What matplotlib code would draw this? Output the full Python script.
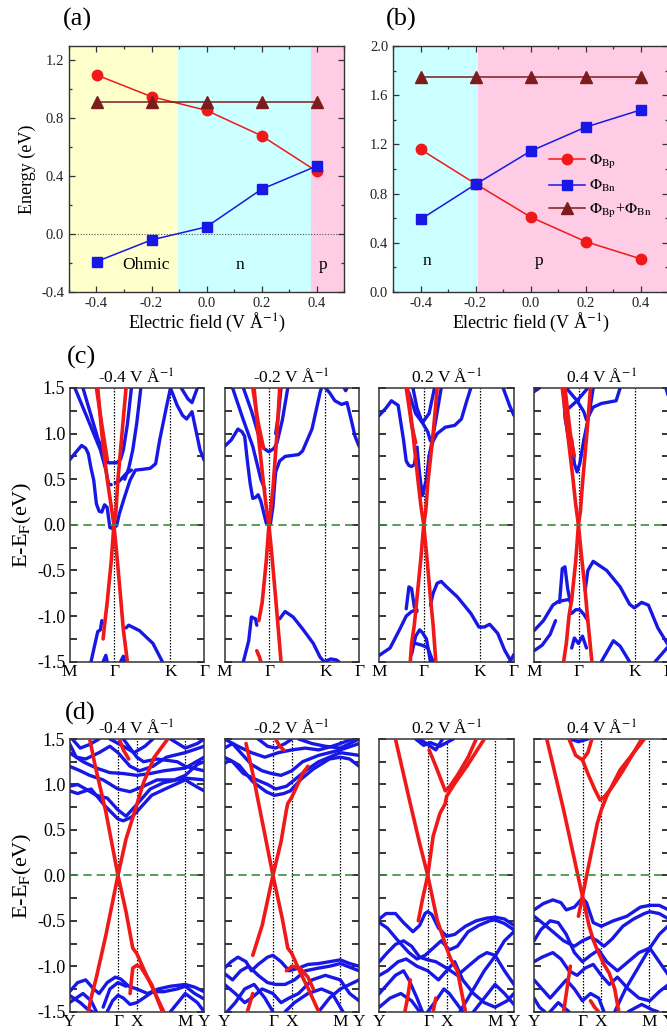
import matplotlib
matplotlib.use('Agg')
import matplotlib.pyplot as plt
from matplotlib.ticker import MultipleLocator, FormatStrFormatter
from matplotlib.lines import Line2D

plt.rcParams['font.family'] = ['Liberation Serif', 'DejaVu Serif']
plt.rcParams['mathtext.fontset'] = 'stix'
plt.rcParams['axes.unicode_minus'] = False

# ---------------- data: panels (a) and (b) ----------------
FIELD = [-0.4, -0.2, 0.0, 0.2, 0.4]
A_PHI_BP = [1.10, 0.95, 0.855, 0.68, 0.435]
A_PHI_BN = [-0.19, -0.04, 0.05, 0.31, 0.47]
A_SUM = [0.915, 0.915, 0.915, 0.915, 0.915]
A_BOUNDS = [-0.5, -0.105, 0.38, 0.5]
A_REGION_LABELS = ['Ohmic', 'n', 'p']
A_REGION_POS = [(-0.22, -0.215), (0.12, -0.215), (0.423, -0.215)]

B_PHI_BP = [1.16, 0.88, 0.61, 0.41, 0.27]
B_PHI_BN = [0.59, 0.875, 1.145, 1.34, 1.48]
B_SUM = [1.75, 1.75, 1.75, 1.75, 1.75]
B_BOUNDS = [-0.5, -0.19, 0.5]
B_REGION_LABELS = ['n', 'p']
B_REGION_POS = [(-0.378, 0.25), (0.03, 0.25)]

# ---------------- data: band structures ----------------
FIELD_TITLES = ['-0.4', '-0.2', '0.2', '0.4']
C_KPOINTS = [0.0, 0.332, 0.75, 1.0]
C_KLABELS = ['M', 'Γ', 'K', 'Γ']
D_KPOINTS = [0.0, 0.362, 0.50, 0.858, 1.0]
D_KLABELS = ['Y', 'Γ', 'X', 'M', 'Y']

C1_BLUE = [
    [(0.0, 0.71), (0.05, 0.80), (0.09, 0.87), (0.12, 0.84), (0.14, 0.78), (0.16, 0.62), (0.18, 0.49), (0.20, 0.23), (0.22, 0.15), (0.24, 0.14), (0.26, 0.22), (0.28, 0.19), (0.30, -0.03), (0.32, -0.04), (0.33, 0.0)],
    [(0.34, -0.02), (0.35, -0.01), (0.37, 0.12), (0.41, 0.31), (0.45, 0.49), (0.49, 0.60), (0.55, 0.61), (0.60, 0.62), (0.64, 0.67), (0.67, 0.93), (0.72, 1.29), (0.75, 1.5)],
    [(0.04, 1.5), (0.13, 1.18), (0.23, 0.82), (0.27, 0.60), (0.29, 0.45), (0.31, 0.44)],
    [(0.34, 0.46), (0.37, 0.48), (0.42, 0.56), (0.46, 0.60)],
    [(0.10, 1.5), (0.15, 1.25), (0.21, 0.95), (0.26, 0.75), (0.29, 0.68), (0.35, 0.68), (0.38, 0.72), (0.40, 0.82), (0.43, 1.1), (0.46, 1.5)],
    [(0.53, 1.5), (0.50, 1.12), (0.47, 0.82), (0.44, 0.62), (0.41, 0.50)],
    [(0.75, 1.5), (0.80, 1.31), (0.84, 1.20), (0.87, 1.16), (0.91, 1.24), (0.94, 1.03), (0.97, 0.82), (1.0, 0.71)],
    [(0.83, 1.5), (0.88, 1.38), (0.91, 1.34), (0.93, 1.42), (0.95, 1.5)],
    [(0.42, -1.13), (0.44, -1.10), (0.52, -1.16), (0.62, -1.30), (0.69, -1.5)],
    [(0.16, -1.5), (0.19, -1.3), (0.21, -1.17), (0.23, -1.15), (0.24, -1.05)],
    [(0.25, -1.5), (0.27, -1.43), (0.28, -1.5)],
    [(0.38, -1.5), (0.40, -1.44), (0.41, -1.5)],
]
C1_RED = [
    [(0.21, 1.5), (0.24, 1.0), (0.28, 0.5), (0.31, 0.2), (0.33, 0.0), (0.35, -0.3), (0.38, -0.8), (0.40, -1.15), (0.43, -1.5)],
    [(0.42, 1.5), (0.39, 1.0), (0.36, 0.5), (0.345, 0.15), (0.33, 0.0), (0.31, -0.4), (0.28, -0.85), (0.26, -1.1), (0.25, -1.25)],
    [(0.20, 1.5), (0.245, 1.05), (0.28, 0.72)],
]

C2_BLUE = [
    [(0.0, 0.86), (0.05, 0.93), (0.10, 1.05), (0.13, 1.02), (0.15, 0.97), (0.17, 0.70), (0.19, 0.46), (0.21, 0.29), (0.23, 0.30), (0.25, 0.33), (0.27, 0.26), (0.31, 0.02), (0.33, 0.0)],
    [(0.34, 0.0), (0.36, 0.2), (0.37, 0.40), (0.38, 0.58), (0.41, 0.70), (0.45, 0.75), (0.55, 0.77), (0.58, 0.81), (0.65, 1.05), (0.71, 1.45), (0.72, 1.5)],
    [(0.06, 1.5), (0.14, 1.15), (0.21, 0.86), (0.27, 0.50), (0.30, 0.39)],
    [(0.14, 1.5), (0.20, 1.25), (0.25, 1.0), (0.29, 0.84), (0.33, 0.80), (0.37, 0.84)],
    [(0.47, 1.5), (0.43, 1.15), (0.39, 0.90), (0.37, 0.84)],
    [(0.42, 1.5), (0.40, 1.2), (0.38, 1.0)],
    [(0.75, 1.5), (0.78, 1.45), (0.82, 1.36), (0.87, 1.32), (0.91, 1.34), (0.94, 1.16), (0.97, 0.97), (1.0, 0.86)],
    [(0.89, 1.5), (0.90, 1.47), (0.91, 1.5)],
    [(0.41, -1.03), (0.45, -0.95), (0.51, -1.01), (0.58, -1.14), (0.66, -1.30), (0.71, -1.45), (0.74, -1.5), (0.79, -1.47), (0.83, -1.48), (0.85, -1.5)],
    [(0.14, -1.5), (0.18, -1.27), (0.20, -1.01), (0.23, -1.03), (0.24, -1.1)],
]
C2_RED = [
    [(0.22, 1.5), (0.25, 1.0), (0.29, 0.45), (0.31, 0.2), (0.33, 0.0), (0.35, -0.3), (0.38, -0.8), (0.40, -1.15), (0.42, -1.5)],
    [(0.41, 1.5), (0.39, 1.0), (0.36, 0.4), (0.34, 0.12), (0.33, 0.0), (0.31, -0.4), (0.28, -0.85), (0.255, -1.05)],
    [(0.21, 1.5), (0.25, 1.12), (0.29, 0.84)],
    [(0.24, -1.38), (0.26, -1.45), (0.27, -1.5)],
]

C3_BLUE = [
    [(0.0, 1.20), (0.05, 1.28), (0.09, 1.36), (0.14, 1.31), (0.18, 0.93), (0.20, 0.70), (0.22, 0.65), (0.24, 0.64), (0.26, 0.66), (0.28, 0.85)],
    [(0.28, 0.85), (0.30, 0.55), (0.32, 0.32), (0.35, 0.50), (0.37, 0.75)],
    [(0.22, 1.45), (0.27, 1.22), (0.32, 1.12), (0.37, 1.22), (0.41, 1.5)],
    [(0.25, 1.5), (0.28, 1.28), (0.32, 1.12), (0.36, 1.02), (0.38, 0.92)],
    [(0.37, 0.75), (0.40, 0.92), (0.43, 1.0), (0.49, 1.07), (0.56, 1.09), (0.61, 1.16), (0.65, 1.36), (0.68, 1.5)],
    [(0.46, 1.5), (0.42, 1.15), (0.39, 0.9), (0.37, 0.75)],
    [(0.92, 1.5), (0.97, 1.30), (1.0, 1.20)],
    [(0.38, -0.88), (0.40, -0.75), (0.43, -0.64), (0.46, -0.62), (0.50, -0.68), (0.58, -0.79), (0.68, -0.97), (0.74, -1.12), (0.78, -1.12), (0.82, -1.09), (0.88, -1.19), (0.93, -1.37), (0.98, -1.5)],
    [(0.97, -1.5), (1.0, -1.42)],
    [(0.20, -0.92), (0.22, -0.68), (0.24, -0.70), (0.26, -0.90), (0.28, -0.95)],
    [(0.0, -1.43), (0.08, -1.35), (0.15, -1.15), (0.20, -1.0), (0.24, -0.95), (0.28, -0.93)],
    [(0.24, -1.42), (0.27, -1.22), (0.30, -1.15), (0.32, -1.18), (0.35, -1.25), (0.38, -1.5)],
    [(0.27, -1.30), (0.32, -1.32), (0.36, -1.35), (0.40, -1.5)],
]
C3_RED = [
    [(0.21, 1.5), (0.25, 1.0), (0.29, 0.45), (0.31, 0.2), (0.33, 0.0), (0.35, -0.3), (0.38, -0.8), (0.40, -1.1), (0.42, -1.5)],
    [(0.43, 1.5), (0.40, 1.0), (0.36, 0.45), (0.345, 0.15), (0.33, 0.0), (0.31, -0.35), (0.28, -0.8), (0.26, -1.1), (0.24, -1.3), (0.23, -1.5)],
    [(0.20, 1.5), (0.24, 1.1), (0.27, 0.9)],
]

C4_BLUE = [
    [(0.0, 1.46), (0.04, 1.5)],
    [(0.22, 1.5), (0.23, 1.18), (0.255, 0.96), (0.28, 0.93), (0.30, 0.67), (0.32, 0.58), (0.34, 0.67), (0.37, 0.93)],
    [(0.24, 1.5), (0.32, 1.36), (0.37, 1.24), (0.39, 1.15), (0.44, 1.29), (0.50, 1.33), (0.61, 1.36), (0.64, 1.5)],
    [(0.26, 1.28), (0.32, 1.36), (0.40, 1.5)],
    [(0.44, 1.5), (0.41, 1.22), (0.38, 1.0), (0.37, 0.93)],
    [(0.98, 1.5), (1.0, 1.40)],
    [(0.38, -0.72), (0.40, -0.50), (0.44, -0.40), (0.54, -0.50), (0.64, -0.68), (0.71, -0.87), (0.745, -0.91), (0.80, -0.85), (0.85, -0.88), (0.92, -1.13), (0.99, -1.30), (1.0, -1.32)],
    [(0.0, -1.16), (0.07, -1.05), (0.14, -0.88), (0.18, -0.84), (0.25, -0.82), (0.28, -0.83)],
    [(0.19, -0.85), (0.21, -0.48), (0.23, -0.46), (0.25, -0.70), (0.27, -0.85)],
    [(0.28, -0.97), (0.31, -0.93), (0.34, -0.93), (0.37, -0.98), (0.40, -1.05)],
    [(0.28, -1.35), (0.30, -1.24), (0.33, -1.30), (0.36, -1.22), (0.39, -1.35)],
    [(0.50, -1.5), (0.59, -1.27), (0.64, -1.33), (0.71, -1.5)],
    [(0.90, -1.5), (0.97, -1.38), (1.0, -1.33)],
    [(0.0, -1.38), (0.06, -1.32), (0.12, -1.2), (0.16, -1.05)],
]
C4_RED = [
    [(0.21, 1.5), (0.25, 1.0), (0.29, 0.5), (0.31, 0.22), (0.33, 0.0), (0.35, -0.3), (0.38, -0.72), (0.40, -1.05), (0.43, -1.5)],
    [(0.42, 1.5), (0.39, 0.95), (0.36, 0.45), (0.345, 0.15), (0.33, 0.0), (0.31, -0.4), (0.28, -0.82), (0.26, -1.0), (0.24, -1.3), (0.22, -1.5)],
    [(0.23, 1.5), (0.27, 1.0), (0.30, 0.75)],
]

D1_BLUE = [
    [(0.0, 0.93), (0.06, 0.90), (0.16, 0.95), (0.26, 0.77), (0.36, 0.62), (0.40, 0.60), (0.46, 0.64), (0.50, 0.70), (0.61, 0.88), (0.71, 0.95), (0.86, 1.05), (0.95, 0.97), (1.0, 0.93)],
    [(0.0, 0.98), (0.06, 1.0), (0.12, 0.95), (0.20, 0.88), (0.28, 0.85), (0.36, 0.72), (0.42, 0.65), (0.50, 0.78), (0.60, 0.95), (0.70, 1.02), (0.86, 1.07), (1.0, 1.05)],
    [(0.0, 1.2), (0.08, 1.15), (0.15, 1.1), (0.25, 1.05), (0.36, 0.95), (0.45, 0.92), (0.55, 0.98), (0.65, 1.05), (0.78, 1.05), (0.86, 1.10), (0.95, 1.22), (1.0, 1.25)],
    [(0.0, 1.35), (0.1, 1.25), (0.2, 1.18), (0.30, 1.13), (0.40, 1.12), (0.50, 1.10), (0.60, 1.12), (0.70, 1.15), (0.86, 1.18), (1.0, 1.3)],
    [(0.0, 1.45), (0.05, 1.3), (0.12, 1.28), (0.22, 1.35), (0.30, 1.42), (0.36, 1.35), (0.45, 1.2), (0.52, 1.15), (0.62, 1.20), (0.72, 1.30), (0.86, 1.35), (1.0, 1.42)],
    [(0.02, 1.5), (0.08, 1.40), (0.15, 1.44), (0.22, 1.5)],
    [(0.30, 1.5), (0.40, 1.42), (0.48, 1.35), (0.56, 1.42), (0.62, 1.5)],
    [(0.75, 1.5), (0.86, 1.40), (0.95, 1.45), (1.0, 1.5)],
    [(0.40, 1.5), (0.50, 1.30), (0.55, 1.25), (0.65, 1.28), (0.80, 1.25), (0.86, 1.2), (1.0, 1.15)],
    [(0.0, -1.28), (0.06, -1.18), (0.12, -1.15), (0.18, -1.25), (0.22, -1.30), (0.28, -1.18), (0.34, -1.12), (0.38, -1.14), (0.44, -1.22), (0.50, -1.25), (0.58, -1.30), (0.66, -1.25), (0.75, -1.22), (0.86, -1.20), (0.93, -1.23), (1.0, -1.28)],
    [(0.0, -1.32), (0.08, -1.40), (0.14, -1.48), (0.17, -1.5)],
    [(0.0, -1.4), (0.05, -1.35), (0.10, -1.30), (0.16, -1.38), (0.20, -1.5)],
    [(0.28, -1.5), (0.32, -1.38), (0.36, -1.32), (0.40, -1.35), (0.45, -1.42), (0.50, -1.40), (0.55, -1.35), (0.62, -1.28), (0.70, -1.28), (0.80, -1.25), (0.86, -1.22), (0.93, -1.30), (1.0, -1.36)],
    [(0.25, -1.45), (0.30, -1.25), (0.36, -1.18), (0.42, -1.22)],
    [(0.75, -1.5), (0.86, -1.30), (0.95, -1.40), (1.0, -1.5)],
]
D1_RED = [
    [(0.15, 1.5), (0.19, 1.21), (0.27, 0.70), (0.36, 0.0), (0.42, -0.40), (0.47, -0.80), (0.50, -0.86), (0.56, -1.06), (0.63, -1.28), (0.70, -1.5)],
    [(0.14, -1.5), (0.16, -1.35), (0.20, -1.12), (0.27, -0.66), (0.36, 0.0), (0.42, 0.40), (0.49, 0.73), (0.55, 1.02), (0.63, 1.30), (0.73, 1.5)],
    [(0.45, -1.3), (0.47, -1.02), (0.50, -0.99), (0.53, -1.01), (0.61, -1.2), (0.69, -1.5)],
    [(0.37, 1.5), (0.40, 1.38), (0.44, 1.28)],
]

D2_BLUE = [
    [(0.0, 1.23), (0.04, 1.27), (0.11, 1.21), (0.21, 1.03), (0.31, 0.92), (0.37, 0.88), (0.44, 0.90), (0.49, 0.93), (0.57, 1.06), (0.66, 1.17), (0.78, 1.28), (0.86, 1.30), (0.93, 1.28), (1.0, 1.2)],
    [(0.0, 1.30), (0.06, 1.25), (0.14, 1.12), (0.24, 1.05), (0.32, 1.0), (0.38, 0.95), (0.46, 0.98), (0.52, 1.05), (0.60, 1.15), (0.70, 1.25), (0.86, 1.35), (1.0, 1.32)],
    [(0.0, 1.40), (0.06, 1.45), (0.12, 1.35), (0.20, 1.22), (0.28, 1.15), (0.35, 1.12), (0.42, 1.10), (0.50, 1.15), (0.58, 1.25), (0.70, 1.32), (0.86, 1.38), (1.0, 1.45)],
    [(0.0, 1.5), (0.1, 1.42), (0.2, 1.35), (0.30, 1.30), (0.40, 1.35), (0.50, 1.38), (0.60, 1.40), (0.70, 1.38), (0.80, 1.42), (0.86, 1.45), (0.95, 1.5)],
    [(0.25, 1.5), (0.32, 1.42), (0.38, 1.40), (0.45, 1.45), (0.50, 1.5)],
    [(0.55, 1.5), (0.65, 1.45), (0.75, 1.42), (0.86, 1.40), (0.93, 1.45), (1.0, 1.5)],
    [(0.0, -1.02), (0.05, -0.95), (0.10, -0.90), (0.16, -0.95), (0.20, -1.05), (0.25, -0.98), (0.32, -0.90), (0.36, -0.88), (0.42, -0.95), (0.48, -1.05), (0.55, -1.02), (0.62, -0.98), (0.70, -0.97), (0.78, -0.95), (0.86, -0.93), (0.93, -0.97), (1.0, -1.0)],
    [(0.0, -1.08), (0.06, -1.15), (0.12, -1.05), (0.18, -1.0), (0.25, -1.1), (0.32, -1.18), (0.38, -1.20), (0.45, -1.20), (0.52, -1.15), (0.60, -1.05), (0.70, -1.02), (0.78, -1.0), (0.86, -0.97), (1.0, -1.05)],
    [(0.0, -1.2), (0.08, -1.30), (0.15, -1.40), (0.20, -1.35), (0.28, -1.25), (0.36, -1.30), (0.42, -1.40), (0.48, -1.35), (0.55, -1.30), (0.65, -1.15), (0.75, -1.10), (0.86, -1.15), (0.93, -1.30), (1.0, -1.38)],
    [(0.02, -1.5), (0.08, -1.40), (0.15, -1.25), (0.22, -1.2), (0.30, -1.35), (0.36, -1.5)],
    [(0.45, -1.5), (0.52, -1.40), (0.62, -1.30), (0.72, -1.25), (0.80, -1.30), (0.86, -1.45), (0.88, -1.5)],
    [(0.70, -1.5), (0.78, -1.35), (0.86, -1.25), (0.93, -1.2), (1.0, -1.15)],
]
D2_RED = [
    [(0.16, 1.45), (0.21, 1.12), (0.27, 0.67), (0.36, 0.0), (0.43, -0.48), (0.47, -0.80), (0.50, -0.86), (0.56, -1.06), (0.62, -1.24), (0.70, -1.5)],
    [(0.21, -0.88), (0.28, -0.55), (0.36, 0.0), (0.42, 0.37), (0.46, 0.72), (0.47, 0.79), (0.50, 0.86), (0.55, 1.02), (0.58, 1.12), (0.62, 1.20)],
    [(0.46, -1.05), (0.50, -1.0), (0.56, -1.02), (0.62, -1.12), (0.66, -1.25)],
    [(0.17, -1.5), (0.19, -1.40), (0.21, -1.30)],
    [(0.38, 1.5), (0.41, 1.42), (0.44, 1.38)],
]

D3_BLUE = [
    [(0.27, 1.5), (0.33, 1.43), (0.38, 1.46), (0.45, 1.42), (0.55, 1.5)],
    [(0.30, 1.5), (0.35, 1.45), (0.42, 1.38), (0.47, 1.5)],
    [(0.0, -0.48), (0.05, -0.42), (0.12, -0.42), (0.18, -0.52), (0.25, -0.62), (0.30, -0.55), (0.34, -0.42), (0.36, -0.40), (0.39, -0.43), (0.44, -0.58), (0.50, -0.67), (0.56, -0.65), (0.64, -0.56), (0.72, -0.50), (0.80, -0.47), (0.86, -0.46), (0.93, -0.48), (1.0, -0.55)],
    [(0.0, -0.52), (0.06, -0.58), (0.14, -0.72), (0.22, -0.85), (0.28, -0.92), (0.34, -0.88), (0.40, -0.80), (0.46, -0.72), (0.52, -0.82), (0.58, -0.78), (0.66, -0.62), (0.74, -0.55), (0.82, -0.50), (0.86, -0.49), (0.93, -0.53), (1.0, -0.60)],
    [(0.0, -0.95), (0.06, -0.85), (0.12, -0.76), (0.18, -0.72), (0.24, -0.78), (0.30, -0.90), (0.36, -0.93), (0.42, -0.95), (0.50, -1.02), (0.58, -1.1), (0.66, -1.0), (0.74, -0.90), (0.80, -0.85), (0.86, -0.88), (0.93, -1.05), (1.0, -1.2)],
    [(0.60, -1.5), (0.70, -1.25), (0.78, -1.05), (0.86, -0.89), (0.93, -0.72), (1.0, -0.62)],
    [(0.0, -1.10), (0.06, -1.05), (0.14, -0.95), (0.20, -0.92), (0.28, -1.0), (0.36, -1.05), (0.44, -1.15), (0.50, -1.05), (0.56, -0.95), (0.62, -1.15), (0.70, -1.3), (0.78, -1.4), (0.86, -1.45), (0.95, -1.38), (1.0, -1.3)],
    [(0.0, -1.3), (0.06, -1.2), (0.12, -1.1), (0.18, -1.05), (0.22, -1.15), (0.28, -1.35), (0.32, -1.5)],
    [(0.0, -1.45), (0.08, -1.35), (0.16, -1.30), (0.24, -1.38), (0.30, -1.5)],
    [(0.36, -1.5), (0.42, -1.38), (0.48, -1.25), (0.52, -1.3), (0.58, -1.42), (0.62, -1.5)],
    [(0.70, -1.5), (0.78, -1.35), (0.86, -1.2), (0.93, -1.3), (1.0, -1.42)],
]
D3_RED = [
    [(0.12, 1.5), (0.23, 0.79), (0.30, 0.35), (0.36, 0.0), (0.43, -0.49), (0.48, -0.71), (0.50, -0.80), (0.53, -0.92), (0.58, -1.05), (0.62, -1.35), (0.64, -1.5)],
    [(0.29, -0.50), (0.32, -0.27), (0.36, 0.0), (0.40, 0.43), (0.45, 0.68), (0.49, 0.79), (0.50, 0.87), (0.56, 1.01), (0.65, 1.20), (0.78, 1.5)],
    [(0.37, 1.38), (0.42, 1.2), (0.49, 0.93), (0.52, 0.97), (0.58, 1.1), (0.66, 1.3), (0.72, 1.5)],
    [(0.19, -1.5), (0.21, -1.35), (0.23, -1.15)],
    [(0.40, -1.5), (0.42, -1.35)],
]

D4_BLUE = [
    [(0.27, 1.5), (0.33, 1.47), (0.40, 1.5)],
    [(0.0, -0.38), (0.07, -0.31), (0.14, -0.27), (0.20, -0.30), (0.24, -0.38), (0.30, -0.35), (0.36, -0.25), (0.39, -0.30), (0.44, -0.52), (0.50, -0.56), (0.59, -0.50), (0.69, -0.45), (0.79, -0.35), (0.86, -0.33), (0.93, -0.33), (1.0, -0.38)],
    [(0.0, -0.45), (0.06, -0.52), (0.14, -0.62), (0.22, -0.72), (0.30, -0.78), (0.36, -0.72), (0.42, -0.68), (0.47, -0.72), (0.52, -0.78), (0.58, -0.70), (0.66, -0.56), (0.74, -0.48), (0.82, -0.42), (0.86, -0.40), (0.93, -0.42), (1.0, -0.48)],
    [(0.0, -0.72), (0.05, -0.60), (0.12, -0.50), (0.18, -0.52), (0.24, -0.65), (0.30, -0.85), (0.36, -0.95), (0.42, -0.88), (0.48, -0.82), (0.54, -0.95), (0.62, -1.05), (0.70, -0.95), (0.78, -0.85), (0.86, -0.80), (0.93, -0.95), (1.0, -1.1)],
    [(0.60, -1.5), (0.68, -1.25), (0.76, -1.05), (0.86, -0.80), (0.93, -0.65), (1.0, -0.55)],
    [(0.0, -0.95), (0.06, -0.90), (0.14, -0.85), (0.20, -0.92), (0.26, -1.05), (0.32, -1.1), (0.38, -1.02), (0.44, -0.98), (0.50, -1.1), (0.56, -1.2), (0.62, -1.12), (0.70, -1.25), (0.78, -1.35), (0.86, -1.38), (0.93, -1.28), (1.0, -1.2)],
    [(0.0, -1.15), (0.06, -1.25), (0.12, -1.35), (0.18, -1.25), (0.24, -1.15), (0.30, -1.25), (0.36, -1.38), (0.42, -1.30), (0.48, -1.35), (0.52, -1.5)],
    [(0.0, -1.35), (0.04, -1.45), (0.08, -1.5)],
    [(0.12, -1.5), (0.18, -1.40), (0.22, -1.45), (0.26, -1.5)],
    [(0.70, -1.5), (0.80, -1.42), (0.88, -1.48), (0.92, -1.5)],
]
D4_RED = [
    [(0.095, 1.5), (0.22, 0.72), (0.36, -0.23), (0.41, -0.56), (0.44, -0.71), (0.47, -0.82), (0.52, -0.98), (0.56, -1.08), (0.60, -1.25), (0.63, -1.5)],
    [(0.33, -0.45), (0.36, -0.23), (0.42, 0.21), (0.47, 0.57), (0.50, 0.72), (0.54, 0.87), (0.64, 1.16), (0.82, 1.5)],
    [(0.26, 1.5), (0.31, 1.32), (0.36, 1.27), (0.40, 1.35), (0.43, 1.5)],
    [(0.36, 1.27), (0.40, 1.12), (0.45, 0.95), (0.49, 0.83), (0.52, 0.86), (0.58, 0.97), (0.66, 1.15), (0.80, 1.5)],
    [(0.22, -1.5), (0.25, -1.2), (0.27, -1.0)],
    [(0.42, -1.38), (0.45, -1.45), (0.48, -1.5)],
]

C_BANDS = [(C1_BLUE, C1_RED), (C2_BLUE, C2_RED), (C3_BLUE, C3_RED), (C4_BLUE, C4_RED)]
D_BANDS = [(D1_BLUE, D1_RED), (D2_BLUE, D2_RED), (D3_BLUE, D3_RED), (D4_BLUE, D4_RED)]

# ---------------- styling ----------------
W, H = 667, 1032
fig = plt.figure(figsize=(W / 100, H / 100), dpi=100)

def ax_px(l, t, w, h):
    return fig.add_axes([l / W, 1 - (t + h) / H, w / W, h / H])

RED = '#f01818'
BLUE = '#1818e6'
DRED = '#7c1c1c'
C_YEL = '#ffffcc'
C_CYA = '#ccffff'
C_PNK = '#ffcce6'
SPINE = '#333333'


def style_field_axes(ax, ylim, ymaj, ymin):
    ax.set_xlim(-0.5, 0.5)
    ax.set_ylim(*ylim)
    ax.xaxis.set_major_locator(MultipleLocator(0.2))
    ax.xaxis.set_minor_locator(MultipleLocator(0.1))
    ax.yaxis.set_major_locator(MultipleLocator(ymaj))
    ax.yaxis.set_minor_locator(MultipleLocator(ymin))
    ax.xaxis.set_major_formatter(FormatStrFormatter('%.1f'))
    ax.yaxis.set_major_formatter(FormatStrFormatter('%.1f'))
    ax.tick_params(which='both', direction='in', top=True, right=True, width=0.9, colors=SPINE, labelcolor='#222222')
    ax.tick_params(which='major', length=4.5, labelsize=10.5)
    ax.tick_params(which='minor', length=2.5)
    for s in ax.spines.values():
        s.set_color(SPINE)
        s.set_linewidth(1.0)
    ax.set_xlabel('Electric field (V Å$^{-1}$)', fontsize=13, labelpad=1)


def plot_series(ax, bp, bn, sm):
    ax.plot(FIELD, bp, '-o', color=RED, lw=1.1, ms=7.5, mec=RED, zorder=3)
    ax.plot(FIELD, bn, '-s', color=BLUE, lw=1.1, ms=7, mec=BLUE, zorder=4)
    ax.plot(FIELD, sm, '-^', color=DRED, lw=1.1, ms=8, mec=DRED, zorder=5)


# ---------- (a) ----------
axa = ax_px(69, 46, 275, 246)
for (x0, x1), c in zip(zip(A_BOUNDS[:-1], A_BOUNDS[1:]), [C_YEL, C_CYA, C_PNK]):
    axa.axvspan(x0, x1, color=c, lw=0, zorder=0)
axa.axhline(0, color='#555555', ls=(0, (1, 1.5)), lw=0.8, zorder=1)
plot_series(axa, A_PHI_BP, A_PHI_BN, A_SUM)
style_field_axes(axa, (-0.4, 1.3), 0.4, 0.2)
axa.set_ylabel('Energy (eV)', fontsize=13, labelpad=4)
for lab, (x, y) in zip(A_REGION_LABELS, A_REGION_POS):
    axa.text(x, y, lab, ha='center', va='center', fontsize=12.5)

# ---------- (b) ----------
axb = ax_px(393, 46, 275, 246)
for (x0, x1), c in zip(zip(B_BOUNDS[:-1], B_BOUNDS[1:]), [C_CYA, C_PNK]):
    axb.axvspan(x0, x1, color=c, lw=0, zorder=0)
plot_series(axb, B_PHI_BP, B_PHI_BN, B_SUM)
style_field_axes(axb, (0.0, 2.0), 0.4, 0.2)
for lab, (x, y) in zip(B_REGION_LABELS, B_REGION_POS):
    axb.text(x, y, lab, ha='center', va='center', fontsize=12.5)
handles = [Line2D([], [], color=RED, marker='o', lw=1.1, ms=7.5),
           Line2D([], [], color=BLUE, marker='s', lw=1.1, ms=7),
           Line2D([], [], color=DRED, marker='^', lw=1.1, ms=8)]
labels = [r'$\Phi_{\rm Bp}$', r'$\Phi_{\rm Bn}$', r'$\Phi_{\rm Bp}$+$\Phi_{\rm Bn}$']
axb.legend(handles, labels, loc='center left', bbox_to_anchor=(0.56, 0.43), frameon=False,
           fontsize=11.5, handlelength=2.3, handletextpad=0.2, labelspacing=0.45, borderpad=0.1,
           borderaxespad=0.0)

# ---------- band panels ----------
C_LEFTS = [69.5, 224.5, 379.3, 534.0]
BW = 134.6


def draw_band_panel(ax, blue, red, kpts, klabels, title, first):
    for b in blue:
        xs, ys = zip(*b)
        ax.plot(xs, ys, color=BLUE, lw=2.4, solid_capstyle='round', solid_joinstyle='round', zorder=2)
    for b in red:
        xs, ys = zip(*b)
        ax.plot(xs, ys, color=RED, lw=2.6, solid_capstyle='round', solid_joinstyle='round', zorder=3)
    for k in kpts[1:-1]:
        ax.axvline(k, color='k', ls=(0, (1.2, 1.2)), lw=0.9, zorder=1)
    ax.axhline(0, color='#3c8c3c', ls=(0, (5, 3)), lw=1.2, zorder=4)
    ax.set_xlim(0, 1)
    ax.set_ylim(-1.5, 1.5)
    ax.set_xticks(kpts)
    ax.set_xticklabels(klabels)
    ax.tick_params(axis='x', length=0, pad=1.5, labelsize=12.5)
    ax.yaxis.set_major_locator(MultipleLocator(0.5))
    ax.yaxis.set_minor_locator(MultipleLocator(0.25))
    ax.yaxis.set_major_formatter(FormatStrFormatter('%.1f'))
    ax.tick_params(axis='y', which='both', direction='in', left=True, right=True,
                   length=5, width=1.1, labelsize=13, pad=3)
    if not first:
        ax.tick_params(axis='y', labelleft=False)
    else:
        ax.set_ylabel(r'E-E$_{\rm F}$(eV)', fontsize=16, labelpad=2)
    for s in ax.spines.values():
        s.set_color(SPINE)
        s.set_linewidth(1.1)
    ax.set_title(title + ' V Å$^{-1}$', fontsize=12.5, pad=2)


for i, (blue, red) in enumerate(C_BANDS):
    ax = ax_px(C_LEFTS[i], 388, BW, 273.7)
    draw_band_panel(ax, blue, red, C_KPOINTS, C_KLABELS, FIELD_TITLES[i], i == 0)

for i, (blue, red) in enumerate(D_BANDS):
    ax = ax_px(C_LEFTS[i], 739, BW, 272.7)
    draw_band_panel(ax, blue, red, D_KPOINTS, D_KLABELS, FIELD_TITLES[i], i == 0)

# panel labels
for lab, (x, y) in zip(['(a)', '(b)', '(c)', '(d)'], [(77, 19), (401, 19), (81, 357), (80, 713)]):
    fig.text(x / W, 1 - y / H, lab, ha='center', va='center', fontsize=19)

fig.savefig('out.png', dpi=100)
